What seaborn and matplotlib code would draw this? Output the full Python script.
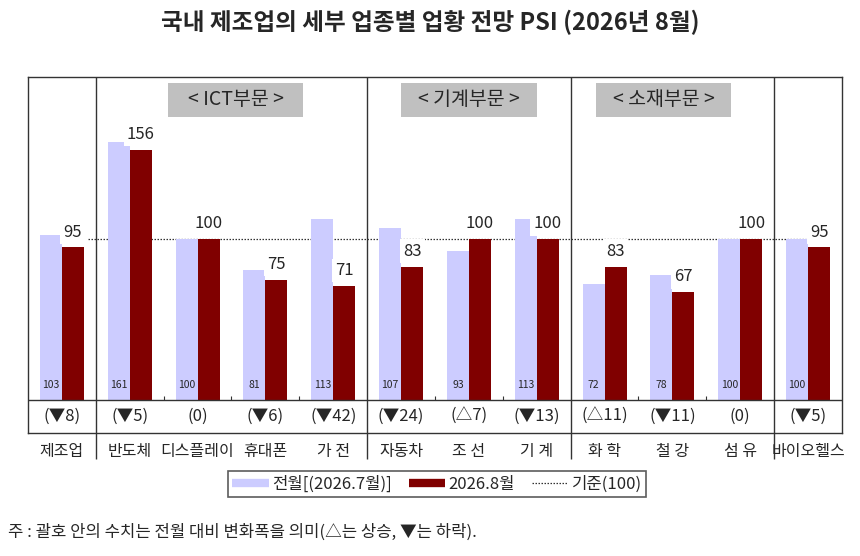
import pandas as pd
import matplotlib.pyplot as plt
import seaborn as sns
from matplotlib.lines import Line2D
from matplotlib.patches import Rectangle

# data
categories = ['제조업', '반도체', '디스플레이', '휴대폰', '가 전', '자동차',
              '조 선', '기 계', '화 학', '철 강', '섬 유', '바이오헬스']
prev_month = [103, 161, 100, 81, 113, 107, 93, 113, 72, 78, 100, 100]
this_month = [95, 156, 100, 75, 71, 83, 100, 100, 83, 67, 100, 95]
changes = ['(▼8)', '(▼5)', '(0)', '(▼6)', '(▼42)', '(▼24)',
           '(△7)', '(▼13)', '(△11)', '(▼11)', '(0)', '(▼5)']
sections = ['< ICT부문 >', '< 기계부문 >', '< 소재부문 >']
series_names = ['전월[(2026.7월)]', '2026.8월']

LAV = '#ccccff'
RED = '#800000'

df = pd.DataFrame({
    'cat': categories * 2,
    'series': [series_names[0]] * len(categories) + [series_names[1]] * len(categories),
    'value': prev_month + this_month,
})

sns.set_style('white')
plt.rcParams['font.family'] = ['Noto Sans CJK KR', 'DejaVu Sans']

fig = plt.figure(figsize=(8.6, 5.56), dpi=100)
ax = fig.add_axes([28 / 860, 1 - 433 / 556, 814 / 860, 356 / 556])

sns.barplot(data=df, x='cat', y='value', hue='series', order=categories,
            hue_order=series_names, palette=[LAV, RED], width=0.65,
            saturation=1, legend=False, linewidth=0, ax=ax, zorder=2)

ax.set_xlim(-0.5, len(categories) - 0.5)
ax.set_ylim(-20.6, 201.2)
ax.set_xticks([])
ax.set_yticks([])
ax.set_xlabel('')
ax.set_ylabel('')
for s in ax.spines.values():
    s.set_color('#333333')
    s.set_linewidth(1.0)

# reference line at 100 (behind the bars)
ax.hlines(100, 0.38, 10.97, colors='#333333', linestyles=(0, (1.2, 1.2)),
          linewidth=0.9, zorder=1)

# line separating the bars from the change row
ax.axhline(0, color='#333333', linewidth=1.0, zorder=3)
for b in [1.5, 2.5, 3.5, 5.5, 6.5, 8.5, 9.5]:
    ax.vlines(b, 0, 2.5, colors='#333333', linewidth=0.8, zorder=3)

# section separators, running down through the category labels
for b in [0.5, 4.5, 7.5, 10.5]:
    ax.vlines(b, -36.8, 201.2, colors='#333333', linewidth=1.0,
              clip_on=False, zorder=3)

# section headers
for name, xc in zip(sections, [2.56, 6.0, 8.87]):
    ax.add_patch(Rectangle((xc - 1.0, 176.3), 2.0, 21.2, facecolor='#c0c0c0',
                           edgecolor='none', zorder=2))
    ax.text(xc, 186.9, name, ha='center', va='center', fontsize=14, zorder=3)

# value labels
for i, (p, c) in enumerate(zip(prev_month, this_month)):
    ax.annotate(str(c), (i + 0.1625, c), xytext=(0, 5), textcoords='offset points',
                ha='center', va='bottom', fontsize=12,
                bbox=dict(boxstyle='square,pad=0.2', fc='white', ec='none'),
                zorder=4)
    ax.text(i - 0.1625, 9.3, str(p), ha='center', va='center', fontsize=7.5,
            zorder=4)
    ax.text(i, -10.3, changes[i], ha='center', va='center', fontsize=12)
    ax.text(i, -32.4, categories[i], ha='center', va='center', fontsize=11.5,
            clip_on=False)

fig.text(0.5, 1 - 22 / 556, '국내 제조업의 세부 업종별 업황 전망 PSI (2026년 8월)',
         ha='center', va='center', fontsize=17, fontweight='bold')

handles = [Line2D([], [], color=LAV, linewidth=6, solid_capstyle='butt'),
           Line2D([], [], color=RED, linewidth=6, solid_capstyle='butt'),
           Line2D([], [], color='#333333', linestyle=(0, (1.2, 1.2)), linewidth=0.9)]
leg = fig.legend(handles, series_names + ['기준(100)'], loc='center',
                 bbox_to_anchor=(437 / 860, 1 - 484 / 556), ncol=3, fontsize=12,
                 frameon=True, fancybox=False, edgecolor='#333333',
                 handlelength=2.2, handletextpad=0.2, columnspacing=1.0,
                 borderpad=0.25)
leg.get_frame().set_linewidth(1.2)

fig.text(8 / 860, 1 - 532 / 556, '주 : 괄호 안의 수치는 전월 대비 변화폭을 의미(△는 상승, ▼는 하락).',
         ha='left', va='center', fontsize=12)

fig.savefig('out.png', dpi=100)
